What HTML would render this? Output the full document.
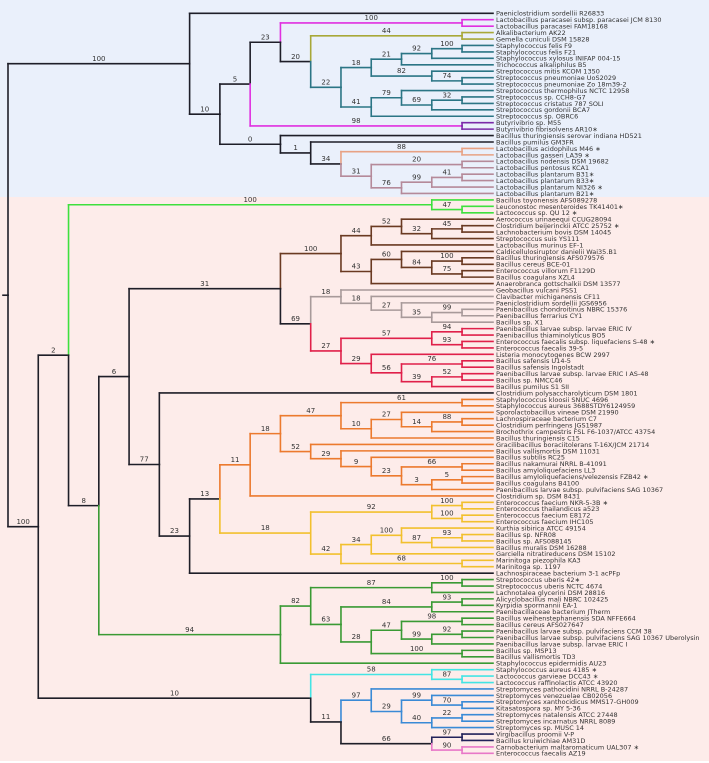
<!DOCTYPE html>
<html><head><meta charset="utf-8"><style>
html,body{margin:0;padding:0;background:#fff}
svg{display:block}
text{font-family:"DejaVu Sans","Liberation Sans",sans-serif}
</style></head><body>
<svg id="phyloSvg" width="709" height="763" xmlns="http://www.w3.org/2000/svg">
<rect x="0" y="0" width="709" height="197" fill="#eaf0fb"/>
<rect x="0" y="197" width="709" height="564" fill="#fdecea"/>
</svg>
<script>
const leafNames = ["Paeniclostridium sordellii R26833","Lactobacillus paracasei subsp. paracasei JCM 8130","Lactobacillus paracasei FAM18168","Alkalibacterium AK22","Gemella cuniculi DSM 15828","Staphylococcus felis F9","Staphylococcus felis F21","Staphylococcus xylosus INIFAP 004-15","Trichococcus alkaliphilus B5","Streptococcus mitis KCOM 1350","Streptococcus pneumoniae UoS2029","Streptococcus pneumoniae Zo 18m39-2","Streptococcus thermophilus NCTC 12958","Streptococcus sp. CCH8-G7","Streptococcus cristatus 787 SOLI","Streptococcus gordonii BCA7","Streptococcus sp. OBRC6","Butyrivibrio sp. M55","Butyrivibrio fibrisolvens AR10∗","Bacillus thuringiensis serovar indiana HD521","Bacillus pumilus GM3FR","Lactobacillus acidophilus M46 ∗","Lactobacillus gasseri LA39 ∗","Lactobacillus nodensis DSM 19682","Lactobacillus pentosus KCA1","Lactobacillus plantarum B31∗","Lactobacillus plantarum B33∗","Lactobacillus plantarum NI326 ∗","Lactobacillus plantarum B21∗",
"Bacillus toyonensis AFS089278","Leuconostoc mesenteroides TK41401∗","Lactococcus sp. QU 12 ∗","Aerococcus urinaeequi CCUG28094","Clostridium beijerinckii ATCC 25752 ∗","Lachnobacterium bovis DSM 14045","Streptococcus suis YS111","Lactobacillus murinus EF-1","Caldicellulosiruptor danielii Wai35.B1","Bacillus thuringiensis AFS079576","Bacillus cereus BCE-01","Enterococcus villorum F1129D","Bacillus coagulans XZL4","Anaerobranca gottschalkii DSM 13577","Geobacillus vulcani PSS1","Clavibacter michiganensis CF11","Paeniclostridium sordellii JGS6956","Paenibacillus chondroitinus NBRC 15376","Paenibacillus ferrarius CY1","Bacillus sp. X1","Paenibacillus larvae subsp. larvae ERIC IV","Paenibacillus thiaminolyticus BO5","Enterococcus faecalis subsp. liquefaciens S-48 ∗","Enterococcus faecalis 39-5","Listeria monocytogenes BCW 2997","Bacillus safensis U14-5","Bacillus safensis Ingolstadt","Paenibacillus larvae subsp. larvae ERIC I AS-48","Bacillus sp. NMCC46","Bacillus pumilus S1 SII",
"Clostridium polysaccharolyticum DSM 1801","Staphylococcus kloosii SNUC 4696","Staphylococcus aureus 3688STDY6124959","Sporolactobacillus vineae DSM 21990","Lachnospiraceae bacterium C7","Clostridium perfringens JGS1987","Brochothrix campestris FSL F6-1037/ATCC 43754","Bacillus thuringiensis C15","Gracilibacillus boraciitolerans T-16X/JCM 21714","Bacillus vallismortis DSM 11031","Bacillus subtilis RC25","Bacillus nakamurai NRRL B-41091","Bacillus amyloliquefaciens LL3","Bacillus amyloliquefaciens/velezensis FZB42 ∗","Bacillus coagulans B4100","Paenibacillus larvae subsp. pulvifaciens SAG 10367","Clostridium sp. DSM 8431","Enterococcus faecium NKR-5-3B ∗","Enterococcus thailandicus a523","Enterococcus faecium E8172","Enterococcus faecium IHC105","Kurthia sibirica ATCC 49154","Bacillus sp. NFR08","Bacillus sp. AFS088145","Bacillus muralis DSM 16288","Garciella nitratireducens DSM 15102","Marinitoga piezophila KA3","Marinitoga sp. 1197","Lachnospiraceae bacterium 3-1 acPFp",
"Streptococcus uberis 42∗","Streptococcus uberis NCTC 4674","Lachnotalea glycerini DSM 28816","Alicyclobacillus mali NBRC 102425","Kyrpidia spormannii EA-1","Paenibacillaceae bacterium JTherm","Bacillus weihenstephanensis SDA NFFE664","Bacillus cereus AFS027647","Paenibacillus larvae subsp. pulvifaciens CCM 38","Paenibacillus larvae subsp. pulvifaciens SAG 10367 Uberolysin","Paenibacillus larvae subsp. larvae ERIC I","Bacillus sp. MSP13","Bacillus vallismortis TD3","Staphylococcus epidermidis AU23","Staphylococcus aureus 4185 ∗","Lactococcus garvieae DCC43 ∗","Lactococcus raffinolactis ATCC 43920","Streptomyces pathocidini NRRL B-24287","Streptomyces venezuelae CB02056","Streptomyces xanthocidicus MMS17-GH009","Kitasatospora sp. MY 5-36","Streptomyces natalensis ATCC 27448","Streptomyces incarnatus NRRL 8089","Streptomyces sp. MUSC 14","Virgibacillus proomii V-P","Bacillus kruiwichiae AM31D","Carnobacterium maltaromaticum UAL307 ∗","Enterococcus faecalis AZ19"];

var cK='#1e1e28',cMAG='#e030e0',cOLV='#a8a838',cTEAL='#2b7585',cPUR='#7a2aa8',cPEACH='#e8a284',cMAUV='#b58a9a',cGRN='#3ee03e',cBRN='#6a3a22',cGRY='#a89a9a',cRED='#e0204a',cORG='#ec7a2e',cYEL='#f2c02e',cDGRN='#3a9a34',cCYN='#44e4e4',cBLU='#3a8ad6',cNAV='#22225a',cPNK='#e878c8';
function nodeT(s,c){var ch=Array.prototype.slice.call(arguments,2);return {s:s,c:c,ch:ch};}
function leafT(i,c){return {leaf:i,c:c};}

var phyloTree = nodeT('',cK,
 nodeT('100',cK, 1, nodeT('10',cK,
   nodeT('5',cK,
     nodeT('23',cK, nodeT('100',cMAG,2,3), nodeT('20',cK, nodeT('44',cOLV,4,5), nodeT('22',cTEAL, nodeT('18',cTEAL, nodeT('21',cTEAL, nodeT('92',cTEAL, nodeT('100',cTEAL,6,7), 8), 9), nodeT('82',cTEAL, 10, nodeT('74',cTEAL,11,12))), nodeT('41',cTEAL, nodeT('79',cTEAL, 13, nodeT('69',cTEAL, nodeT('32',cTEAL,14,15), 16)), 17)))),
     nodeT('98',cMAG, leafT(18,cPUR), leafT(19,cPUR))),
   nodeT('0',cK, 20, nodeT('1',cK, 21, nodeT('34',cK, nodeT('88',cPEACH,22,23), nodeT('31',cMAUV, nodeT('20',cMAUV,24,25), nodeT('76',cMAUV, nodeT('99',cMAUV, nodeT('41',cMAUV,26,27), 28), 29))))))),
 nodeT('100',cK,
   nodeT('2',cK, nodeT('100',cGRN, 30, nodeT('47',cGRN,31,32)),
     nodeT('8',cK,
       nodeT('6',cK,
         nodeT('31',cK,
           nodeT('100',cBRN, nodeT('44',cBRN, nodeT('52',cBRN, 33, nodeT('32',cBRN, nodeT('45',cBRN,34,35), 36)), 37), nodeT('43',cBRN, nodeT('60',cBRN, 38, nodeT('84',cBRN, nodeT('100',cBRN,39,40), nodeT('75',cBRN,41,42))), 43)),
           nodeT('69',cK, nodeT('18',cGRY, 44, nodeT('18',cGRY, 45, nodeT('27',cGRY, 46, nodeT('35',cGRY, nodeT('99',cGRY,47,48), 49)))),
                     nodeT('27',cRED, nodeT('57',cRED, nodeT('94',cRED,50,51), nodeT('93',cRED,52,53)), nodeT('29',cRED, 54, nodeT('56',cRED, nodeT('76',cRED,55,56), nodeT('39',cRED, nodeT('52',cRED,57,58), 59)))))),
         nodeT('77',cK, leafT(60,cK), nodeT('23',cK,
           nodeT('13',cK,
             nodeT('11',cORG, nodeT('18',cORG, nodeT('47',cORG, nodeT('61',cORG,61,62), nodeT('10',cORG, nodeT('27',cORG, 63, nodeT('14',cORG, nodeT('88',cORG,64,65), 66)), 67)),
                                     nodeT('52',cORG, 68, nodeT('29',cORG, 69, nodeT('9',cORG, 70, nodeT('23',cORG, nodeT('66',cORG,71,72), nodeT('3',cORG, nodeT('5',cORG,73,74), 75)))))), 76),
             nodeT('18',cYEL, nodeT('92',cYEL, nodeT('100',cYEL,77,78), nodeT('100',cYEL,79,80)), nodeT('42',cYEL, nodeT('34',cYEL, nodeT('100',cYEL, 81, nodeT('87',cYEL, nodeT('93',cYEL,82,83), 84)), 85), nodeT('68',cYEL,86,87)))),
           leafT(88,cK)))),
       nodeT('94',cDGRN, nodeT('82',cDGRN, nodeT('87',cDGRN, nodeT('100',cDGRN,89,90), 91), nodeT('63',cDGRN, nodeT('84',cDGRN, nodeT('93',cDGRN,92,93), 94), nodeT('28',cDGRN, nodeT('47',cDGRN, nodeT('98',cDGRN,95,96), nodeT('99',cDGRN, nodeT('92',cDGRN,97,98), 99)), nodeT('100',cDGRN,100,101)))), 102))),
   nodeT('10',cK, nodeT('58',cCYN, 103, nodeT('87',cCYN,104,105)), nodeT('11',cK, nodeT('97',cBLU, 106, nodeT('29',cBLU, nodeT('99',cBLU, 107, nodeT('70',cBLU,108,109)), nodeT('40',cBLU, nodeT('22',cBLU,110,111), 112))), nodeT('66',cK, nodeT('97',cNAV,113,114), nodeT('90',cPNK,115,116)))))
);

(function(){
var svgEl=document.getElementById('phyloSvg');
var SVGNS='http://www.w3.org/2000/svg';
var X0=8, STEP=30.27, TOP=13.3, DY=6.435, TIP=493;
function xLevel(l){return X0+l*STEP;}
function yLeaf(i){return TOP+(i-1)*DY;}
function prep(n,pc){
  if(typeof n==='number') n={leaf:n,c:pc};
  if(n.leaf){n.h=0;n.y=yLeaf(n.leaf);n.x=TIP;return n;}
  n.ch=n.ch.map(function(c){return prep(c,n.c);});
  var h=0;n.ch.forEach(function(c){if(c.h>h)h=c.h;});
  n.h=h+1;
  n.y=(n.ch[0].y+n.ch[n.ch.length-1].y)/2;
  n.x=xLevel(16-n.h);
  return n;
}
var rootN=prep(phyloTree,cK);
function seg(x1,y1,x2,y2,c){
  var l=document.createElementNS(SVGNS,'line');
  l.setAttribute('x1',x1);l.setAttribute('y1',y1);l.setAttribute('x2',x2);l.setAttribute('y2',y2);
  l.setAttribute('stroke',c);l.setAttribute('stroke-width','1.6');l.setAttribute('stroke-linecap','square');
  
  
  svgEl.appendChild(l);
}
function label(x,y,s,anchor,size,nm){
  var t=document.createElementNS(SVGNS,'text');
  t.setAttribute('x',x);t.setAttribute('y',y);t.setAttribute('font-size',size);
  t.setAttribute('text-anchor',anchor);t.setAttribute('fill','#333333');
  t.textContent=s;
  
  
  svgEl.appendChild(t);
}
function drawNode(n){
  if(n.leaf){
    label(496,n.y+2.4,leafNames[n.leaf-1],'start','6.5','leaf-label');
    return;
  }
  n.ch.forEach(function(c){
    seg(n.x,n.y,n.x,c.y,c.c);
    seg(n.x,c.y,c.x,c.y,c.c);
    if(!c.leaf && c.s!=='') label((n.x+c.x)/2,c.y-2.8,c.s,'middle','7','support-value');
    drawNode(c);
  });
}
seg(3,rootN.y,rootN.x,rootN.y,cK);
drawNode(rootN);
})();
</script>
</body></html>
